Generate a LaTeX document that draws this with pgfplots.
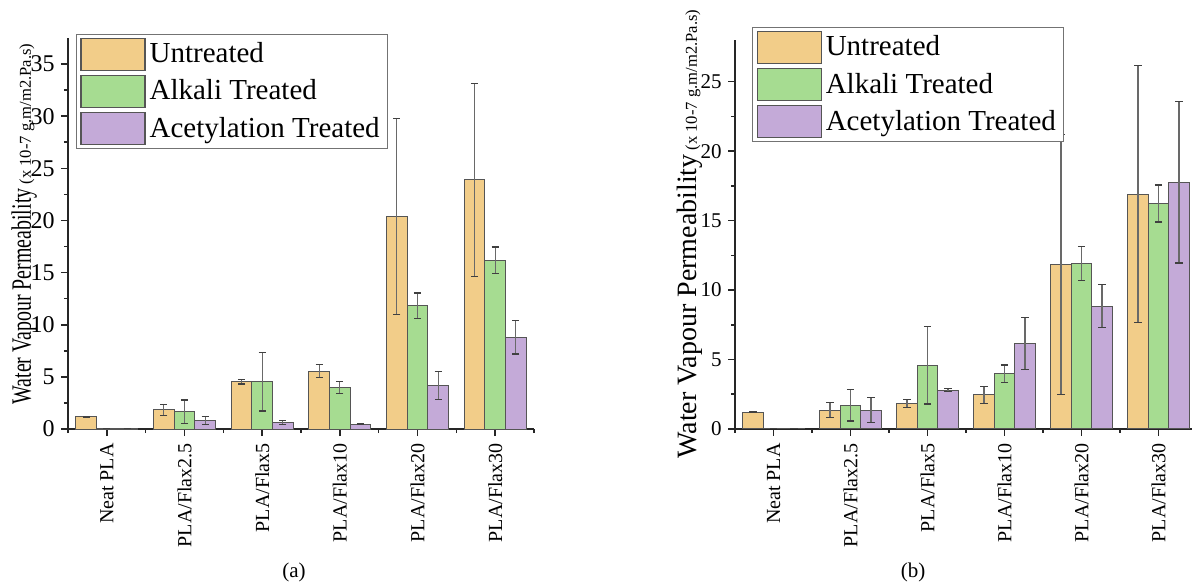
\documentclass[border=0pt]{standalone}
\usepackage{fontspec}
\setmainfont{Liberation Serif}
\usepackage{graphicx}
\usepackage{pgfplots}
\usepackage{pgfplotstable}
\pgfplotsset{compat=1.18}

\definecolor{cU}{RGB}{242,205,137}
\definecolor{cA}{RGB}{166,220,145}
\definecolor{cC}{RGB}{196,170,216}
\definecolor{edge}{RGB}{85,85,85}
\definecolor{errc}{RGB}{105,105,105}

% columns: x, untreated, err, alkali, err, acetylation, err
\pgfplotstableread{
x u ue a ae c ce
0 1.18 0.05 0.05 0 0.05 0
1 1.85 0.53 1.66 1.12 0.83 0.40
2 4.54 0.22 4.54 2.81 0.61 0.19
3 5.56 0.61 3.96 0.58 0.45 0.03
4 20.39 9.40 11.82 1.22 4.19 1.35
5 23.90 9.25 16.17 1.28 8.82 1.62
}\dataA

\pgfplotstableread{
x u ue a ae c ce
0 1.20 0.02 0.05 0 0.05 0
1 1.34 0.54 1.70 1.13 1.34 0.90
2 1.83 0.29 4.59 2.79 2.79 0.10
3 2.45 0.60 3.99 0.62 6.15 1.89
4 11.82 9.35 11.91 1.22 8.84 1.55
5 16.91 9.25 16.23 1.33 17.75 5.80
}\dataB

\pgfplotsset{
  mybars/.style={
    scale only axis,
    axis x line*=bottom, axis y line*=left,
    axis line style={line width=0.9bp, color=black!85},
    every tick/.style={black!85, line width=0.8bp},
    tick align=outside,
    major tick length=3.5bp, minor tick length=2bp,
    xmin=-0.5, xmax=5.5, ymin=0,
    enlargelimits=false,
    xtick={0,1,2,3,4,5},
    xticklabels={Neat PLA, PLA/Flax2.5, PLA/Flax5, PLA/Flax10, PLA/Flax20, PLA/Flax30},
    minor xtick={-0.5,0.5,1.5,2.5,3.5,4.5,5.5},
    minor y tick num=1,
    xticklabel style={rotate=90, anchor=east, inner sep=0pt, xshift=-3.5bp, font=\fontsize{10bp}{10bp}\selectfont},
    /pgf/number format/assume math mode=true,
    ybar=0pt, bar width=0.2667,
    legend cell align=left,
    legend image code/.code={\draw[#1, line width=0.6bp] (0bp,-8bp) rectangle (32bp,8bp);},
    error bars/y dir=both, error bars/y explicit,
    error bars/error bar style={line width=0.6bp, color=errc},
    error bars/error mark options={rotate=90, line width=0.6bp, mark size=1.8bp, color=black!75},
  },
  bU/.style={fill=cU, draw=edge, line width=0.5bp},
  bA/.style={fill=cA, draw=edge, line width=0.5bp},
  bC/.style={fill=cC, draw=edge, line width=0.5bp},
}

\begin{document}
\begin{tikzpicture}
% ---------------- panel (a)
\begin{axis}[mybars,
  at={(34bp,78.5bp)}, anchor=south west,
  width=233bp, height=195.5bp,
  ymax=37.5, ytick={0,5,...,35},
  yticklabel style={font=\fontsize{12bp}{12bp}\selectfont, inner sep=0pt, xshift=-3bp},
  ylabel={\scalebox{0.71}[1]{\fontsize{14bp}{14bp}\selectfont Water Vapour Permeability} {\fontsize{8.3bp}{9bp}\selectfont (x 10-7 g.m/m2.Pa.s)}},
  ylabel style={at={(axis description cs:-0.0794,0.524)}, anchor=base, inner sep=0pt, font=\fontsize{8.3bp}{9bp}\selectfont},
  legend style={at={(axis description cs:0.017,1.01)}, anchor=north west,
    draw=black!55, line width=0.5bp, font=\fontsize{14.5bp}{16bp}\selectfont,
    inner xsep=2bp, inner ysep=1.5bp, row sep=2bp,
    nodes={inner ysep=0bp, inner xsep=2bp}},
]
\addplot[bU] table[x=x, y=u, y error=ue]{\dataA};
\addlegendentry{Untreated}
\addplot[bA] table[x=x, y=a, y error=ae]{\dataA};
\addlegendentry{Alkali Treated}
\addplot[bC] table[x=x, y=c, y error=ce]{\dataA};
\addlegendentry{Acetylation Treated}
\end{axis}
% ---------------- panel (b)
\begin{axis}[mybars,
  at={(367.5bp,78.5bp)}, anchor=south west,
  width=231bp, height=194.5bp,
  ymax=28, ytick={0,5,...,25},
  yticklabel style={font=\fontsize{10.5bp}{10.5bp}\selectfont, inner sep=0pt, xshift=-3bp},
  ylabel={{\fontsize{14bp}{14bp}\selectfont Water Vapour Permeability} {\fontsize{8.3bp}{9bp}\selectfont (x 10-7 g.m/m2.Pa.s)}},
  ylabel style={at={(axis description cs:-0.0823,0.501)}, anchor=base, inner sep=0pt, font=\fontsize{8.3bp}{9bp}\selectfont},
  legend style={at={(axis description cs:0.037,1.033)}, anchor=north west,
    draw=black!55, line width=0.5bp, font=\fontsize{14.5bp}{16bp}\selectfont,
    inner xsep=2bp, inner ysep=1.5bp, row sep=2bp,
    nodes={inner ysep=0bp, inner xsep=2bp}},
]
\addplot[bU] table[x=x, y=u, y error=ue]{\dataB};
\addlegendentry{Untreated}
\addplot[bA] table[x=x, y=a, y error=ae]{\dataB};
\addlegendentry{Alkali Treated}
\addplot[bC] table[x=x, y=c, y error=ce]{\dataB};
\addlegendentry{Acetylation Treated}
\end{axis}
\node[font=\fontsize{10.5bp}{12bp}\selectfont] at (147bp,7bp) {(a)};
\node[font=\fontsize{10.5bp}{12bp}\selectfont] at (456.5bp,7bp) {(b)};
\pgfresetboundingbox
\path[use as bounding box] (0bp,0bp) rectangle (596bp,293bp);
\end{tikzpicture}
\end{document}
